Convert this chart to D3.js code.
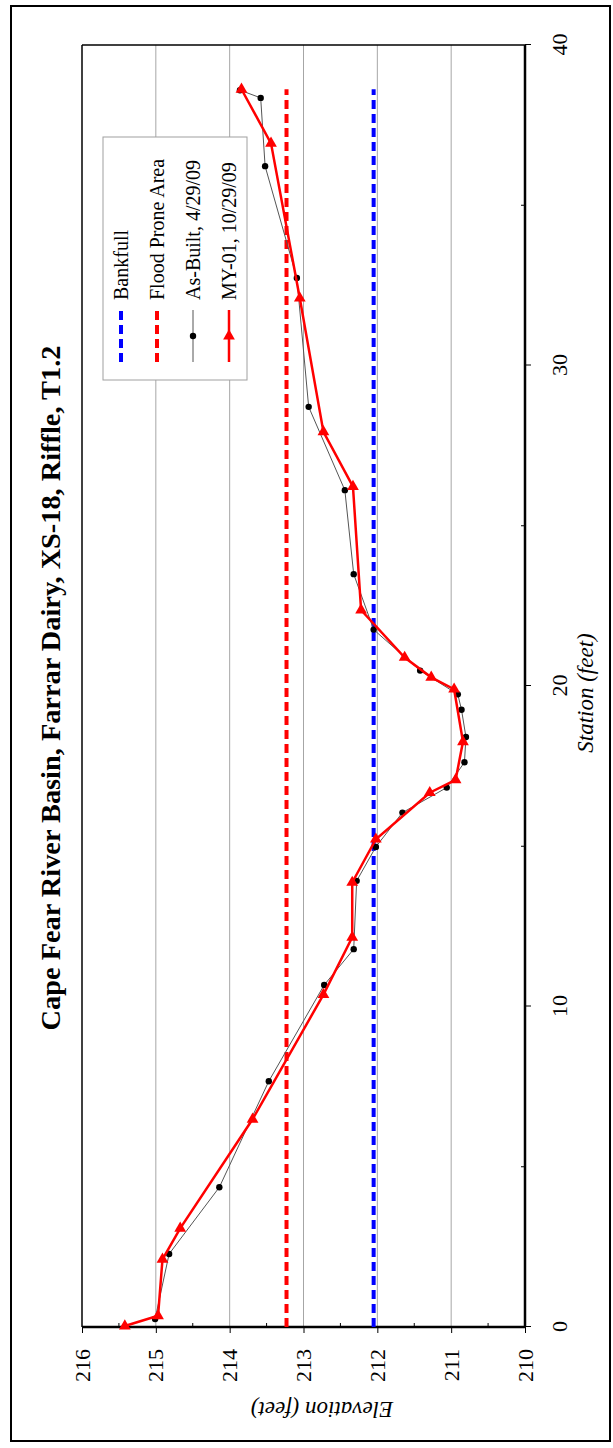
<!DOCTYPE html>
<html>
<head>
<meta charset="utf-8">
<script src="https://cdn.jsdelivr.net/npm/d3@7"></script>
<style>
  html, body { margin: 0; padding: 0; background: #fff; }
  svg { display: block; }
  text { font-family: 'Liberation Serif', 'Times New Roman', serif; fill: #000; }
</style>
</head>
<body>
<svg id="chart" width="613" height="1448"></svg>
<script>
// ---- Data ----
const titleText = "Cape Fear River Basin, Farrar Dairy, XS-18, Riffle, T1.2";
const xAxisTitle = "Station (feet)";
const yAxisTitle = "Elevation (feet)";
const stationTicks = [0, 10, 20, 30, 40];
const elevationTicks = [210, 211, 212, 213, 214, 215, 216];

const asBuiltStation = [0.25, 2.28, 4.36, 7.67, 10.67, 11.79, 13.92, 14.98, 16.05, 16.83, 17.62, 18.41, 19.26, 19.74, 20.48, 21.76, 23.49, 26.11, 28.71, 32.73, 36.22, 38.35, 38.59];
const asBuiltElev    = [215.01, 214.82, 214.14, 213.47, 212.72, 212.32, 212.28, 212.02, 211.66, 211.06, 210.82, 210.80, 210.86, 210.91, 211.42, 212.05, 212.32, 212.44, 212.93, 213.09, 213.52, 213.58, 213.86];

const my01Station = [0.03, 0.35, 2.11, 3.08, 6.48, 10.37, 12.16, 13.87, 15.22, 16.67, 17.07, 18.26, 19.90, 20.27, 20.89, 22.37, 26.22, 27.93, 32.10, 36.93, 38.62];
const my01Elev    = [215.42, 214.97, 214.91, 214.67, 213.69, 212.73, 212.34, 212.34, 212.02, 211.29, 210.94, 210.84, 210.96, 211.27, 211.63, 212.22, 212.33, 212.73, 213.05, 213.44, 213.84];

const bankfullStation = [0, 38.62];
const bankfullElev = [212.05, 212.05];
const floodStation = [0, 38.62];
const floodElev = [213.23, 213.23];

const legendLabels = ["Bankfull", "Flood Prone Area", "As-Built, 4/29/09", "MY-01, 10/29/09"];

const serif = "'Liberation Serif', 'Times New Roman', serif";

// ---- Layout ----
const svg = d3.select("#chart");
svg.append("rect").attr("x", 11).attr("y", 6).attr("width", 599).attr("height", 1435)
  .attr("fill", "none").attr("stroke", "#000").attr("stroke-width", 2);

const W = 1282, H = 443;
const g = svg.append("g").attr("transform", "translate(82,1327) rotate(-90)");

const x = d3.scaleLinear().domain([0, 40]).range([0, W]);
const y = d3.scaleLinear().domain([210, 216]).range([H, 0]);

// gridlines
g.append("g").selectAll("line").data(elevationTicks.filter(d => d > 210 && d < 216)).join("line")
  .attr("x1", 0).attr("x2", W).attr("y1", d => y(d)).attr("y2", d => y(d))
  .attr("stroke", "#a6a6a6").attr("stroke-width", 1);

// plot border
g.append("line").attr("x1", W).attr("x2", W).attr("y1", 0).attr("y2", H).attr("stroke", "#000").attr("stroke-width", 1.5);
g.append("line").attr("x1", 0).attr("x2", W).attr("y1", 0).attr("y2", 0).attr("stroke", "#000").attr("stroke-width", 1.5);

// minor ticks
const minorStation = d3.range(5, 40, 10);
g.append("g").selectAll("line").data(minorStation).join("line")
  .attr("x1", d => x(d)).attr("x2", d => x(d)).attr("y1", H).attr("y2", H - 4)
  .attr("stroke", "#000").attr("stroke-width", 1);
const minorElev = d3.range(210.5, 216, 1);
g.append("g").selectAll("line").data(minorElev).join("line")
  .attr("x1", 0).attr("x2", 4).attr("y1", d => y(d)).attr("y2", d => y(d))
  .attr("stroke", "#000").attr("stroke-width", 1);

// station axis
const xAxis = g.append("g").attr("transform", `translate(0,${H})`)
  .call(d3.axisBottom(x).tickValues(stationTicks).tickSize(6).tickPadding(20).tickFormat(d3.format("d")));
xAxis.attr("font-family", serif).attr("font-size", 22);
xAxis.select(".domain").attr("stroke-width", 2.5).attr("d", `M0,0H${W}`);
xAxis.selectAll(".tick line").attr("stroke-width", 1);
xAxis.selectAll("text").style("font-family", serif).style("font-size", "22px");

// elevation axis
const yAxis = g.append("g")
  .call(d3.axisLeft(y).tickValues(elevationTicks).tickSize(6).tickPadding(16).tickFormat(d3.format("d")));
yAxis.attr("font-family", serif).attr("font-size", 22);
yAxis.select(".domain").attr("stroke-width", 2.5).attr("d", `M0,${H}V0`);
yAxis.selectAll(".tick line").attr("stroke-width", 1);
yAxis.selectAll("text").style("font-family", serif).style("font-size", "22px");

// axis titles
g.append("text").attr("x", 634).attr("y", 511).attr("text-anchor", "middle")
  .style("font-family", serif).style("font-size", "23px").style("font-style", "italic").text(xAxisTitle);
g.append("text").attr("transform", `translate(-83,240) rotate(-90)`).attr("text-anchor", "middle")
  .attr("dy", "0.35em").style("font-family", serif).style("font-size", "23px").style("font-style", "italic").text(yAxisTitle);

// title
const t = g.append("text").attr("x", 639).attr("y", -32).attr("dy", "0.35em").attr("text-anchor", "middle")
  .style("font-family", serif).style("font-size", "24px").style("font-weight", "bold").text(titleText);
const len = t.node().getComputedTextLength();
if (len > 0) t.style("font-size", (24 * 685 / len).toFixed(2) + "px");

const line = d3.line().x(d => x(d[0])).y(d => y(d[1]));

// reference lines
g.append("path").datum(d3.zip(bankfullStation, bankfullElev)).attr("d", line)
  .attr("fill", "none").attr("stroke", "#0000ff").attr("stroke-width", 4).attr("stroke-dasharray", "9,5");
g.append("path").datum(d3.zip(floodStation, floodElev)).attr("d", line)
  .attr("fill", "none").attr("stroke", "#ff0000").attr("stroke-width", 4).attr("stroke-dasharray", "9,5");

// As-built
const ab = d3.zip(asBuiltStation, asBuiltElev);
g.append("path").datum(ab).attr("d", line).attr("fill", "none").attr("stroke", "#555").attr("stroke-width", 1);
g.append("g").selectAll("circle").data(ab).join("circle")
  .attr("cx", d => x(d[0])).attr("cy", d => y(d[1])).attr("r", 3.2).attr("fill", "#000");

// MY-01
const my = d3.zip(my01Station, my01Elev);
g.append("path").datum(my).attr("d", line).attr("fill", "none").attr("stroke", "#ff0000").attr("stroke-width", 2.5);
const tri = d3.symbol().type(d3.symbolTriangle).size(60);
g.append("g").selectAll("path").data(my).join("path")
  .attr("transform", d => `translate(${x(d[0])},${y(d[1])}) rotate(90)`)
  .attr("d", tri).attr("fill", "#ff0000");

// legend
const leg = g.append("g");
leg.append("rect").attr("x", 947).attr("y", 21).attr("width", 243).attr("height", 144)
  .attr("fill", "#fff").attr("stroke", "#a0a0a0").attr("stroke-width", 1);
const itemV = [39, 75, 111, 147];
const l0 = 965, l1 = 1017, lm = (l0 + l1) / 2;
leg.append("line").attr("x1", l0).attr("x2", l1).attr("y1", itemV[0]).attr("y2", itemV[0])
  .attr("stroke", "#0000ff").attr("stroke-width", 4).attr("stroke-dasharray", "9,5");
leg.append("line").attr("x1", l0).attr("x2", l1).attr("y1", itemV[1]).attr("y2", itemV[1])
  .attr("stroke", "#ff0000").attr("stroke-width", 4).attr("stroke-dasharray", "9,5");
leg.append("line").attr("x1", l0).attr("x2", l1).attr("y1", itemV[2]).attr("y2", itemV[2])
  .attr("stroke", "#555").attr("stroke-width", 1);
leg.append("circle").attr("cx", lm).attr("cy", itemV[2]).attr("r", 3.2).attr("fill", "#000");
leg.append("line").attr("x1", l0).attr("x2", l1).attr("y1", itemV[3]).attr("y2", itemV[3])
  .attr("stroke", "#ff0000").attr("stroke-width", 2.5);
leg.append("path").attr("transform", `translate(${lm},${itemV[3]}) rotate(90)`).attr("d", tri).attr("fill", "#ff0000");
leg.selectAll("text.lt").data(legendLabels).join("text").attr("class", "lt")
  .attr("x", 1027).attr("y", (d, i) => itemV[i]).attr("dy", "0.35em")
  .style("font-family", serif).style("font-size", "20px").text(d => d);
</script>
</body>
</html>
